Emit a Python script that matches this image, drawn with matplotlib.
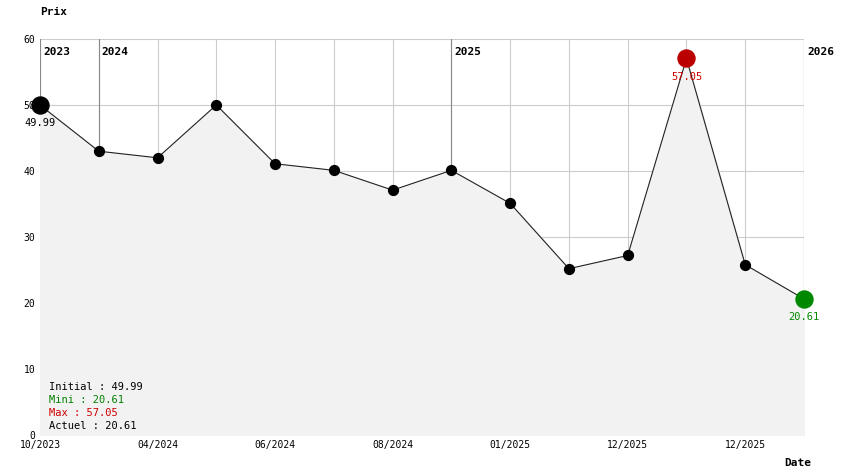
import matplotlib.pyplot as plt

plt.rcParams['font.family'] = 'DejaVu Sans Mono'

prices = [49.99, 43.0, 42.0, 50.0, 41.1, 40.1, 37.1, 40.1, 35.1, 25.2, 27.2, 57.05, 25.8, 20.61]
tick_idx = [0, 2, 4, 6, 8, 10, 12]
tick_labels = ['10/2023', '04/2024', '06/2024', '08/2024', '01/2025', '12/2025', '12/2025']
year_idx = [0, 1, 7, 13]
year_labels = ['2023', '2024', '2025', '2026']
legend_lines = [('Initial : 49.99', 'black'), ('Mini : 20.61', 'green'),
                ('Max : 57.05', '#cc0000'), ('Actuel : 20.61', 'black')]

x = list(range(len(prices)))
fig = plt.figure(figsize=(8.44, 4.74), dpi=100)
ax = fig.add_axes([40/844, 39/474, 764/844, 396/474])
ax.set_xlim(0, len(prices) - 1)
ax.set_ylim(0, 60)

for i in x:
    ax.axvline(i, color='#cccccc', lw=0.8, zorder=0)
for v in range(10, 61, 10):
    ax.axhline(v, color='#cccccc', lw=0.8, zorder=0)
for i, lab in zip(year_idx, year_labels):
    ax.axvline(i, color='#888888', lw=0.8, zorder=1)
    ax.text(i + 0.05, 58, lab, fontsize=8, fontweight='bold', va='center', ha='left')

ax.fill_between(x, prices, color='#f2f2f2', zorder=1)
ax.plot(x, prices, color='#222222', lw=0.8, zorder=2)
ax.scatter(x[1:-1], prices[1:-1], s=50, color='black', zorder=3)

imax = prices.index(max(prices))
ax.scatter([0], [prices[0]], s=150, color='black', zorder=4, clip_on=False)
ax.scatter([imax], [prices[imax]], s=150, color='#bb0000', zorder=4)
ax.scatter([x[-1]], [prices[-1]], s=150, color='#008800', zorder=4, clip_on=False)
ax.text(0, prices[0] - 2, '49.99', fontsize=7.5, ha='center', va='top')
ax.text(imax, prices[imax] - 2, '57.05', fontsize=7.5, ha='center', va='top', color='#cc0000')
ax.text(x[-1], prices[-1] - 2, '20.61', fontsize=7.5, ha='center', va='top', color='#008800')

for k, (t, c) in enumerate(legend_lines):
    ax.text(0.15, 7.3 - k * 2.0, t, fontsize=7.5, color=c, va='center')

ax.set_xticks(tick_idx)
ax.set_xticklabels(tick_labels, fontsize=7)
ax.set_yticks(range(0, 61, 10))
ax.tick_params(labelsize=7, length=0)
for s in ax.spines.values():
    s.set_visible(False)
fig.text(40/844, 1 - 12/474, 'Prix', fontsize=8, fontweight='bold', va='center')
fig.text(798/844, 1 - 463/474, 'Date', fontsize=8, fontweight='bold', va='center', ha='center')

fig.savefig('out.png')
